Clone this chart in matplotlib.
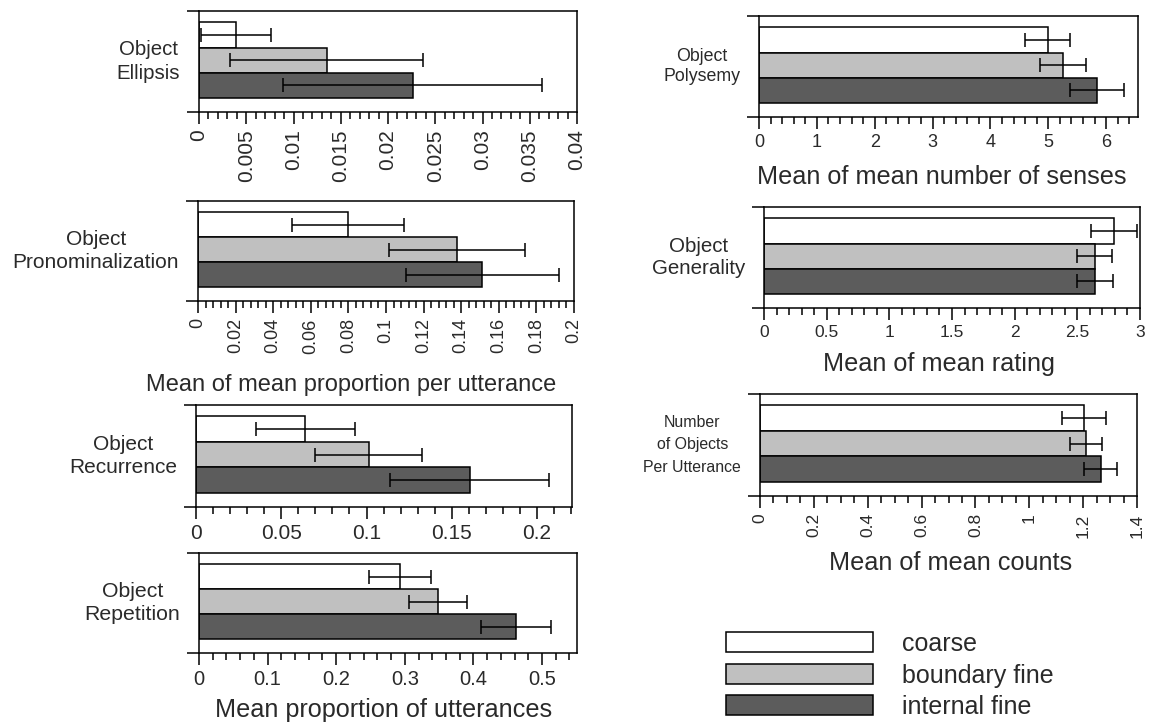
import matplotlib
matplotlib.use('Agg')
import matplotlib.pyplot as plt
import numpy as np
from matplotlib.ticker import MultipleLocator

plt.rcParams['font.family'] = ['Liberation Sans', 'DejaVu Sans']
plt.rcParams['text.color'] = '#2a2a2a'
plt.rcParams['xtick.labelcolor'] = '#2a2a2a'

# groups, top to bottom inside every panel
groups = ['coarse', 'boundary fine', 'internal fine']
colors = ['white', '#c0c0c0', '#5c5c5c']

# panel values: mean and half-width of the error bar for each group
ellipsis_mean = [0.0039, 0.0135, 0.0226]
ellipsis_err = [0.0037, 0.0102, 0.0137]
pronom_mean = [0.0797, 0.1377, 0.1513]
pronom_err = [0.0297, 0.0363, 0.0406]
recur_mean = [0.0641, 0.1012, 0.1604]
recur_err = [0.0291, 0.0316, 0.0464]
repet_mean = [0.293, 0.348, 0.462]
repet_err = [0.0455, 0.0425, 0.051]
polysemy_mean = [4.99, 5.25, 5.84]
polysemy_err = [0.39, 0.395, 0.46]
generality_mean = [2.793, 2.64, 2.643]
generality_err = [0.187, 0.14, 0.143]
count_mean = [1.203, 1.21, 1.265]
count_err = [0.082, 0.06, 0.061]

# tick labels
ellipsis_ticks = ['0', '0.005', '0.01', '0.015', '0.02', '0.025', '0.03', '0.035', '0.04']
pronom_ticks = ['0', '0.02', '0.04', '0.06', '0.08', '0.1', '0.12', '0.14', '0.16', '0.18', '0.2']
recur_ticks = ['0', '0.05', '0.1', '0.15', '0.2']
repet_ticks = ['0', '0.1', '0.2', '0.3', '0.4', '0.5']
polysemy_ticks = ['0', '1', '2', '3', '4', '5', '6']
generality_ticks = ['0', '0.5', '1', '1.5', '2', '2.5', '3']
count_ticks = ['0', '0.2', '0.4', '0.6', '0.8', '1', '1.2', '1.4']

W, H = 1150, 725
fig = plt.figure(figsize=(11.5, 7.25), dpi=100)


def panel(box, name, means, errs, ticks, xmax, minor, rotate=False, tick_fs=13,
          name_fs=14.8, name_ls=1.25, xlabel=None, xlabel_fs=18.2, lab_dx=0, lab_dy=0):
    l, t, r, b = box
    ax = fig.add_axes([l / W, 1 - b / H, (r - l) / W, (b - t) / H])
    y = np.arange(len(means))
    for i in range(len(means)):
        ax.barh(y[i], means[i], height=1.0, color=colors[i], edgecolor='black',
                linewidth=1.1, label=groups[i], zorder=2)
    ax.errorbar(means, y, xerr=errs, fmt='none', ecolor='black', elinewidth=1.1,
                capsize=5.2, capthick=1.1, zorder=3)
    ax.set_yticks([-0.95, 3.05])
    ax.set_yticklabels([])
    ax.set_ylim(3.05, -0.95)
    ax.set_xlim(0, xmax)
    ax.set_xticks([float(s) for s in ticks])
    ax.xaxis.set_minor_locator(MultipleLocator(minor))
    ax.set_xticklabels(ticks, rotation=90 if rotate else 0, fontsize=tick_fs)
    ax.tick_params(axis='x', which='major', direction='out', length=8.5, width=1.1, pad=4)
    ax.tick_params(axis='x', which='minor', direction='out', length=5, width=1.1)
    ax.tick_params(axis='y', direction='out', length=9, width=1.1)
    for s in ax.spines.values():
        s.set_linewidth(1.1)
    ax.text(-0.05, 0.5, name, transform=ax.transAxes, ha='right', va='center',
            multialignment='center', fontsize=name_fs, linespacing=name_ls)
    if xlabel:
        ax.annotate(xlabel, xy=(0.5, 0), xycoords='axes fraction',
                    xytext=(lab_dx * 0.72, -lab_dy * 0.72), textcoords='offset points',
                    ha='center', va='center_baseline', fontsize=xlabel_fs)
    return ax


panel((199, 11, 577, 112), 'Object\nEllipsis', ellipsis_mean, ellipsis_err,
      ellipsis_ticks, 0.04, 0.001, rotate=True, tick_fs=15, name_fs=14.7, name_ls=1.35)
panel((198, 201, 574, 301), 'Object\nPronominalization', pronom_mean, pronom_err,
      pronom_ticks, 0.2, 0.004, rotate=True, tick_fs=13, name_fs=15, name_ls=1.23,
      xlabel='Mean of mean proportion per utterance', xlabel_fs=17, lab_dx=-35, lab_dy=82)
panel((196, 405, 572, 507), 'Object\nRecurrence', recur_mean, recur_err,
      recur_ticks, 0.2205, 0.01, tick_fs=15, name_fs=15, name_ls=1.26)
ax4 = panel((199, 553, 577, 653), 'Object\nRepetition', repet_mean, repet_err,
            repet_ticks, 0.551, 0.02, tick_fs=14.5, name_fs=15.3, name_ls=1.25,
            xlabel='Mean proportion of utterances', lab_dx=-4, lab_dy=54)
panel((759, 16, 1138, 117), 'Object\nPolysemy', polysemy_mean, polysemy_err,
      polysemy_ticks, 6.55, 0.2, tick_fs=13, name_fs=12.8, name_ls=1.3,
      xlabel='Mean of mean number of senses', lab_dx=-7, lab_dy=58)
panel((764, 207, 1140, 308), 'Object\nGenerality', generality_mean, generality_err,
      generality_ticks, 3.0, 0.1, tick_fs=12.5, name_fs=14.8, name_ls=1.25,
      xlabel='Mean of mean rating', lab_dx=-13, lab_dy=53)
panel((760, 394, 1137, 496), 'Number\nof Objects\nPer Utterance', count_mean, count_err,
      count_ticks, 1.4, 0.05, rotate=True, tick_fs=12.5, name_fs=11.4, name_ls=1.65,
      xlabel='Mean of mean counts', lab_dx=2, lab_dy=64)

handles, labels = ax4.get_legend_handles_labels()
fig.legend(handles, labels, loc='upper left', bbox_to_anchor=(726 / W, 1 - 632 / H),
           frameon=False, fontsize=18, handlelength=5.88, handleheight=0.84,
           labelspacing=0.3, handletextpad=1.16, borderaxespad=0, borderpad=0)

fig.savefig('out.png', dpi=100)
